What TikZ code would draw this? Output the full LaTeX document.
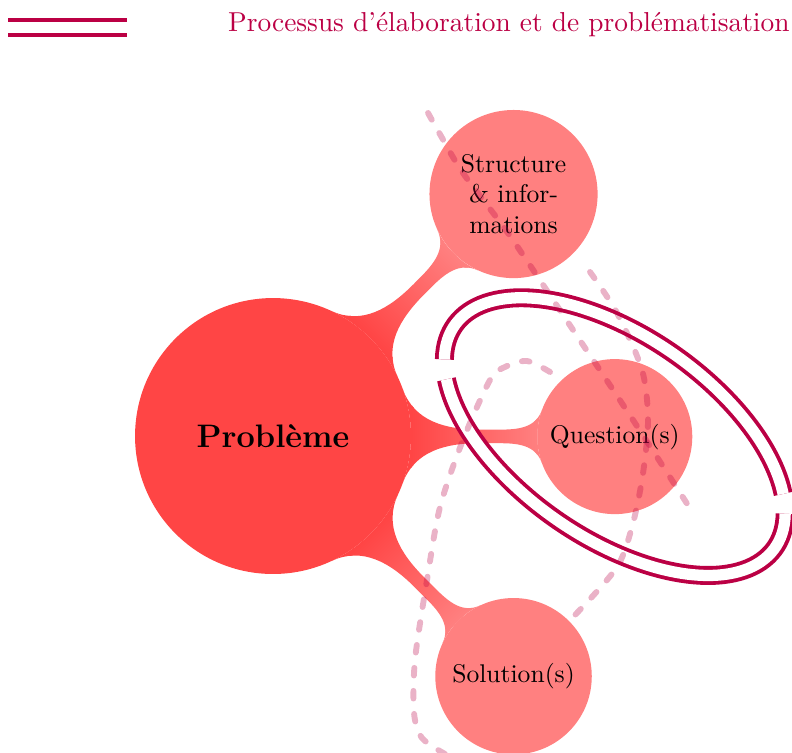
\documentclass[tikz,border=0pt]{standalone}
\usetikzlibrary{mindmap}
\usetikzlibrary{backgrounds}
\definecolor{probred}{RGB}{255,69,69}
\definecolor{subred}{RGB}{255,128,128}
\definecolor{procred}{RGB}{187,0,68}
\tikzset{
    idea/.style={circle, fill=subred, draw=subred, line width=0.8pt, inner sep=0pt, align=center, text=black},
    barlink/.style={circle connection bar switch color=from (probred) to (subred), line width=5.9pt},
    procline/.style={draw=procred, line width=1.5pt, double=white, double distance=4.4pt},
    trail/.style={draw=procred, opacity=0.3, line width=2.3pt, dash pattern=on 3pt off 6pt, line cap=round}
}
\begin{document}
\begin{tikzpicture}
    \useasboundingbox (0,0) rectangle (10.873,10.324);

    % legend
    \draw[procline] (0.11,9.949) -- (1.744,9.949);
    \node[anchor=east, inner sep=0pt, text=procred, font=\fontsize{10.7}{13}\selectfont] (legend) at (10.846,9.981) {Processus d'élaboration et de problématisation};

    % concepts
    \node[idea, fill=probred, draw=probred, minimum size=3.76cm, font=\fontsize{12.7}{15}\selectfont\bfseries] (prob) at (3.748,4.338) {Problème};
    \node[idea, minimum size=2.28cm] (struct) at (7.05,7.66) {Structure\\\& infor-\\mations};
    \node[idea, minimum size=2.10cm] (ques) at (8.44,4.33) {Question(s)};
    \node[idea, minimum size=2.12cm] (sol) at (7.05,1.04) {Solution(s)};

    \begin{pgfonlayer}{background}
        \path (prob) to[barlink] (struct);
        \path (prob) to[barlink] (ques);
        \path (prob) to[barlink] (sol);
    \end{pgfonlayer}

    % problematisation loop
    \begin{scope}[shift={(ques.center)}, rotate=-34.7]
        \draw[procline] (28.7:2.677 and 1.393) arc[start angle=28.7, end angle=199.3, x radius=2.677, y radius=1.393];
        \draw[procline] (208.7:2.677 and 1.393) arc[start angle=208.7, end angle=379.3, x radius=2.677, y radius=1.393];
    \end{scope}

    % trails
    \draw[trail] plot[smooth] coordinates {(5.876,8.773) (6.054,8.457) (6.356,7.949) (7.002,7.084) (7.867,5.794) (8.690,4.558) (9.514,3.281)};
    \draw[trail] plot[smooth] coordinates {(8.100,6.590) (8.471,6.027) (8.814,5.244) (8.896,4.558) (8.828,3.830) (8.690,3.144) (8.471,2.540) (7.894,1.881)};
    \draw[trail] plot[smooth] coordinates {(7.551,5.217) (7.235,5.368) (6.933,5.286) (6.727,5.107) (6.356,4.283) (6.041,3.364) (5.862,2.361) (5.697,1.263) (5.684,0.535) (5.794,0.192) (6.109,-0.027)};
\end{tikzpicture}
\end{document}
